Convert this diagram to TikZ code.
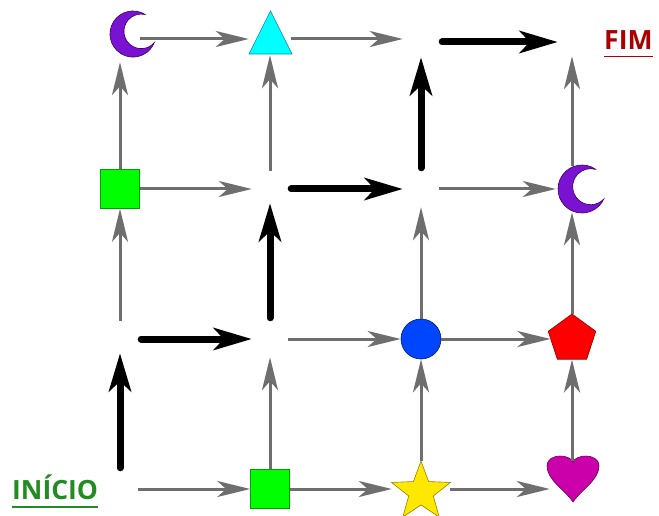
\documentclass[tikz,border=0pt]{standalone}
\usepackage{fontspec}
\setmainfont{Open Sans}
\usetikzlibrary{arrows.meta,shapes.geometric}
\definecolor{garrow}{HTML}{6E6E6E}
\definecolor{moonc}{RGB}{122,18,210}
\definecolor{moonedge}{RGB}{60,0,100}
\definecolor{sqgreen}{HTML}{00FF00}
\definecolor{sqedge}{HTML}{00A000}
\definecolor{tric}{HTML}{00FFFF}
\definecolor{triedge}{HTML}{0088AA}
\definecolor{circc}{HTML}{0045FF}
\definecolor{circedge}{HTML}{001A66}
\definecolor{pentc}{HTML}{FF0000}
\definecolor{pentedge}{HTML}{8B0000}
\definecolor{starc}{HTML}{FFE800}
\definecolor{staredge}{HTML}{9A8000}
\definecolor{heartc}{HTML}{CC00AA}
\definecolor{heartedge}{HTML}{6A0050}
\definecolor{startgreen}{RGB}{34,139,34}
\definecolor{fimred}{RGB}{170,0,0}
\newcommand\ulbox[3]{\setbox0\hbox{#3}\rlap{\rule[-#1]{\wd0}{#2}}\box0}
\tikzset{
  moonpic/.pic={\path[fill=moonc,draw=moonedge,line width=0.6pt]
    (39.6:24pt) arc[start angle=39.6,end angle=320.4,radius=24pt]
    arc[start angle=-58.2,end angle=-301.8,radius=18pt] -- cycle;}
}
\begin{document}
\begin{tikzpicture}[x=1pt,y=-1pt,
  empty/.style={circle,minimum size=36pt,inner sep=0pt},
  hole/.style={rectangle,inner sep=0pt},
  garr/.style={draw=garrow,line width=3pt,-{Stealth[length=33pt,width=16pt,inset=9pt]}},
  barr/.style={draw=black,line width=7pt,line cap=round,shorten <=3pt,-{Stealth[length=38pt,width=22pt,inset=10pt]}},
  sq/.style={rectangle,minimum size=39pt,inner sep=0pt,fill=sqgreen,draw=sqedge,line width=0.6pt},
  lbl/.style={anchor=base west,inner sep=0pt,font=\fontsize{26.5}{30}\selectfont\bfseries}]
\useasboundingbox (0,0) rectangle (659,516);
% shapes
\pic[rotate=18,scale=0.96] at (133,34) {moonpic};
\pic[rotate=15] at (582,189) {moonpic};
\path[fill=tric,draw=triedge,line width=0.6pt] (270.5,11) -- (292,54) -- (249,54) -- cycle;
\path[fill=heartc,draw=heartedge,line width=0.6pt,shift={(573,462)}]
  (0,40) .. controls (-8,28) and (-26,18) .. (-26,4)
  .. controls (-26,-3) and (-19,-6) .. (-13,-6)
  .. controls (-6,-6) and (-1,-3) .. (0,0)
  .. controls (1,-3) and (6,-6) .. (13,-6)
  .. controls (19,-6) and (26,-3) .. (26,4)
  .. controls (26,18) and (8,28) .. (0,40) -- cycle;
\node[star,star points=5,star point ratio=2.4,minimum size=62pt,inner sep=0pt,fill=starc,draw=staredge,line width=0.6pt] (starshape) at (421,492) {};
% grid nodes
\node[hole,minimum width=40pt,minimum height=46pt] (n11) at (120,39) {};
\node[hole,minimum width=42pt,minimum height=32pt] (n12) at (270,39) {};
\node[empty] (n13) at (421,39) {};
\node[empty,minimum size=34pt] (n14) at (572,39) {};
\node[sq] (n21) at (120,189) {};
\node[empty] (n22) at (270,189) {};
\node[empty] (n23) at (421,189) {};
\node[hole,minimum width=32pt,minimum height=46pt] (n24) at (572,189) {};
\node[empty] (n31) at (120,339) {};
\node[empty] (n32) at (270,339) {};
\node[circle,minimum size=40pt,inner sep=0pt,fill=circc,draw=circedge,line width=0.6pt] (n33) at (421,339) {};
\node[regular polygon,regular polygon sides=5,minimum size=50pt,inner sep=0pt,fill=pentc,draw=pentedge,line width=0.6pt] (n34) at (572,339) {};
\node[empty] (n41) at (120,489) {};
\node[sq] (n42) at (270,489) {};
\node[hole,minimum width=58pt,minimum height=56pt] (n43) at (421,489) {};
\node[hole,minimum width=44pt,minimum height=56pt] (n44) at (572,489) {};
% labels
\node[lbl,text=startgreen] (inicio) at (12,499) {\ulbox{9pt}{2pt}{INÍCIO}};
\node[lbl,text=fimred] (fim) at (604,50) {\ulbox{7.5pt}{1.8pt}{FIM}};
% gray arrows
\draw[garr] (n11) -- (n12);
\draw[garr] (n12) -- (n13);
\draw[garr] (n21) -- (n22);
\draw[garr] (n23) -- (n24);
\draw[garr] (n32) -- (n33);
\draw[garr] (n33) -- (n34);
\draw[garr] (n41) -- (n42);
\draw[garr] (n42) -- (n43);
\draw[garr] (n43) -- (n44);
\draw[garr] (n21) -- (n11);
\draw[garr] (n31) -- (n21);
\draw[garr] (n22) -- (n12);
\draw[garr] (n42) -- (n32);
\draw[garr] (n33) -- (n23);
\draw[garr] (n43) -- (n33);
\draw[garr] (n24) -- (n14);
\draw[garr] (n34) -- (n24);
\draw[garr] (n44) -- (n34);
% black path
\draw[barr,shorten >=-3pt] ([yshift=-3pt]n13.east) -- ([yshift=-3pt]n14.west);
\draw[barr] (n22) -- (n23);
\draw[barr] (n23) -- (n13);
\draw[barr,shorten >=-4pt] (n32) -- (n22);
\draw[barr] (n31) -- (n32);
\draw[barr,shorten >=-4pt] (n41) -- (n31);
\end{tikzpicture}
\end{document}
